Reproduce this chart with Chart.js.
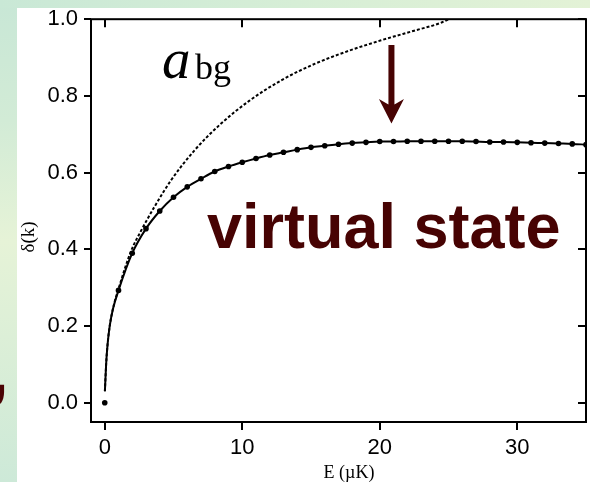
<!DOCTYPE html>
<html>
<head>
<meta charset="utf-8">
<script src="https://cdn.jsdelivr.net/npm/chart.js@4.4.0/dist/chart.umd.min.js"></script>
<style>
  html, body { margin: 0; padding: 0; }
  body {
    width: 590px; height: 482px; position: relative; overflow: hidden;
    background: linear-gradient(to bottom, #c8e7d6 0%, #d2ebd6 25%, #e6f3d7 50%, #dcefd7 70%, #cde9d8 100%);
  }
  #topstrip {
    position: absolute; left: 0; top: 0; width: 590px; height: 8px;
    background: linear-gradient(to right, #c9e8d6 0%, #d6eed6 50%, #e3f2d6 100%);
  }
  #panel { position: absolute; left: 17px; top: 8px; right: 0; bottom: 0; background: #fff; }
  #comma {
    position: absolute; left: -9px; top: 337px; color: #4a0404;
    font: bold 62px "Liberation Sans", Arial, sans-serif;
  }
  #c { position: absolute; left: 0; top: 0; }
</style>
</head>
<body>
<div id="topstrip"></div>
<div id="comma">,</div>
<div id="panel"></div>
<canvas id="c" width="590" height="482"></canvas>
<script>
// puntos medidos (E en µK, delta)
const dotE = [0, 1, 2, 3, 4, 5, 6, 7, 8, 9, 10, 11, 12, 13, 14, 15, 16, 17, 18,
  19, 20, 21, 22, 23, 24, 25, 26, 27, 28, 29, 30, 31, 32, 33, 34, 35];
const dotDelta = [0.0, 0.293, 0.39, 0.454, 0.50, 0.536, 0.563, 0.584, 0.603, 0.616,
  0.627, 0.637, 0.646, 0.653, 0.660, 0.666, 0.670, 0.674, 0.677, 0.679, 0.681,
  0.681, 0.682, 0.682, 0.682, 0.682, 0.682, 0.681, 0.680, 0.680, 0.679, 0.678,
  0.677, 0.676, 0.675, 0.673];

// curva continua (ajuste) cerca de E = 0
const fitE = [0.01, 0.1, 0.2, 0.36, 0.6];
const fitDelta = [0.03, 0.1, 0.15, 0.2, 0.245];

// curva a_bg (línea punteada)
const bgE = [0.01, 0.1, 0.2, 0.36, 0.6, 1, 1.93, 2.65, 3.6, 4.8, 6.5, 8.4, 10.5,
  12.9, 15.3, 17.7, 20.1, 22.5, 24.4, 25.3];
const bgDelta = [0.03, 0.1, 0.15, 0.2, 0.246, 0.297, 0.397, 0.449, 0.51, 0.579,
  0.657, 0.726, 0.787, 0.842, 0.884, 0.917, 0.945, 0.970, 0.990, 1.005];

const xTicks = [0, 10, 20, 30];
const yTicks = [0.0, 0.2, 0.4, 0.6, 0.8, 1.0];

const toPts = (xs, ys) => xs.map((x, i) => ({ x: x, y: ys[i] }));
const fitPts = toPts(fitE, fitDelta).concat(toPts(dotE.slice(1), dotDelta.slice(1)));

const marco = {
  id: "marco",
  afterDraw(chart) {
    const ctx = chart.ctx;
    const a = chart.chartArea;
    const xs = chart.scales.x, ys = chart.scales.y;
    ctx.save();
    ctx.strokeStyle = "#000";
    ctx.lineWidth = 2;
    ctx.strokeRect(a.left, a.top, a.right - a.left, a.bottom - a.top);
    // marcas interiores arriba y a la derecha
    ctx.beginPath();
    xTicks.forEach(t => {
      const px = Math.round(xs.getPixelForValue(t));
      ctx.moveTo(px, a.top); ctx.lineTo(px, a.top + 8);
    });
    yTicks.forEach(t => {
      const py = Math.round(ys.getPixelForValue(t));
      ctx.moveTo(a.right, py); ctx.lineTo(a.right - 8, py);
    });
    ctx.stroke();

    // títulos de ejes
    ctx.fillStyle = "#000";
    ctx.font = '18px "Liberation Serif", serif';
    ctx.textAlign = "center";
    ctx.textBaseline = "alphabetic";
    ctx.fillText("E (\u00b5K)", 349, 478);
    ctx.save();
    ctx.translate(34, 237);
    ctx.rotate(-Math.PI / 2);
    ctx.font = '19px "Liberation Serif", serif';
    ctx.fillText("\u03b4(k)", 0, 0);
    ctx.restore();

    // etiqueta a_bg
    ctx.textAlign = "left";
    ctx.font = 'italic 57px "Liberation Serif", serif';
    ctx.fillText("a", 162, 78);
    ctx.font = '36px "Liberation Serif", serif';
    ctx.fillText("bg", 195, 79);

    // texto virtual state
    ctx.fillStyle = "#470303";
    ctx.font = 'bold 63px "Liberation Sans", Arial, sans-serif';
    ctx.fillText("virtual state", 207, 248);

    // flecha
    const cx = xs.getPixelForValue(20.85);
    const y0 = ys.getPixelForValue(0.933);
    const yTip = ys.getPixelForValue(0.728);
    ctx.beginPath();
    ctx.moveTo(cx - 3, y0);
    ctx.lineTo(cx - 3, yTip - 19);
    ctx.lineTo(cx - 12.5, yTip - 24.5);
    ctx.lineTo(cx, yTip);
    ctx.lineTo(cx + 12.5, yTip - 24.5);
    ctx.lineTo(cx + 3, yTip - 19);
    ctx.lineTo(cx + 3, y0);
    ctx.closePath();
    ctx.fill();
    ctx.restore();
  }
};

new Chart(document.getElementById("c"), {
  type: "scatter",
  data: {
    datasets: [
      {
        label: "puntos",
        data: toPts(dotE, dotDelta),
        showLine: false,
        pointRadius: 2.8,
        pointBackgroundColor: "#000",
        pointBorderWidth: 0
      },
      {
        label: "ajuste",
        data: fitPts,
        showLine: true,
        pointRadius: 0,
        borderColor: "#000",
        borderWidth: 2,
        cubicInterpolationMode: "monotone"
      },
      {
        label: "a_bg",
        data: toPts(bgE, bgDelta),
        showLine: true,
        pointRadius: 0,
        borderColor: "#000",
        borderWidth: 2,
        borderDash: [3, 2],
        cubicInterpolationMode: "monotone"
      }
    ]
  },
  options: {
    responsive: false,
    animation: false,
    layout: { padding: { top: 17, right: 2, left: 0, bottom: 0 } },
    plugins: { legend: { display: false }, tooltip: { enabled: false } },
    scales: {
      x: {
        type: "linear",
        min: -1,
        max: 35,
        afterBuildTicks: s => { s.ticks = xTicks.map(v => ({ value: v })); },
        afterFit: s => { s.height = 60; },
        border: { display: false },
        grid: { drawOnChartArea: false, tickLength: 8, color: "#000", lineWidth: 2 },
        ticks: {
          color: "#000",
          padding: 5,
          font: { family: "Liberation Sans", size: 22 },
          callback: v => String(v)
        }
      },
      y: {
        min: -0.05,
        max: 1.0,
        afterBuildTicks: s => { s.ticks = yTicks.map(v => ({ value: v })); },
        afterFit: s => { s.width = 91; },
        border: { display: false },
        grid: { drawOnChartArea: false, tickLength: 7, color: "#000", lineWidth: 2 },
        ticks: {
          color: "#000",
          padding: 6,
          font: { family: "Liberation Sans", size: 22 },
          callback: v => v.toFixed(1)
        }
      }
    }
  },
  plugins: [marco]
});
</script>
</body>
</html>
